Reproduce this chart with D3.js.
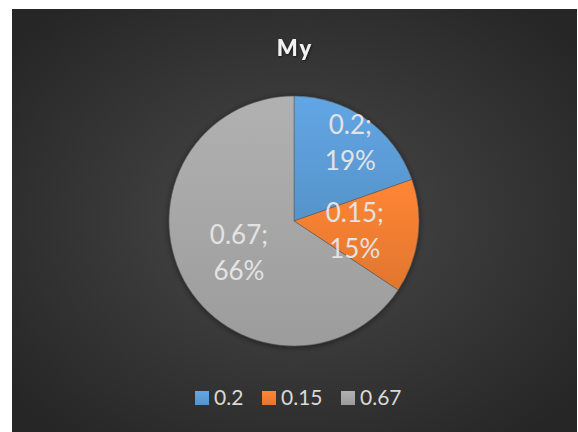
<!DOCTYPE html>
<html>
<head>
<meta charset="utf-8">
<script src="https://cdn.jsdelivr.net/npm/d3@7"></script>
<style>
  html, body { margin: 0; padding: 0; background: #ffffff; }
  svg { display: block; }
</style>
</head>
<body>
<svg id="chart" width="578" height="432"></svg>
<script>
// Chart data
const categories = ["0.2", "0.15", "0.67"];
const values = [0.2, 0.15, 0.67];
const percentLabels = ["19%", "15%", "66%"];
const colors = ["#5B9BD5", "#ED7D31", "#A5A5A5"];
const title = "My";

const svg = d3.select("#chart");
const fontFam = "Lato, 'Open Sans', 'DejaVu Sans', sans-serif";

const defs = svg.append("defs");

// Dark radial background
const bg = defs.append("radialGradient").attr("id", "bg")
  .attr("cx", "50%").attr("cy", "50%").attr("r", "65%");
bg.append("stop").attr("offset", "0%").attr("stop-color", "#4a4a4a");
bg.append("stop").attr("offset", "100%").attr("stop-color", "#262626");

// Vertical gradients per slice
colors.forEach((c, i) => {
  const g = defs.append("linearGradient").attr("id", "sg" + i)
    .attr("x1", 0).attr("y1", 0).attr("x2", 0).attr("y2", 1);
  g.append("stop").attr("offset", "0%").attr("stop-color", d3.color(c).brighter(0.2));
  g.append("stop").attr("offset", "100%").attr("stop-color", d3.color(c).darker(0.15));
});

const shadow = defs.append("filter").attr("id", "shadow")
  .attr("x", "-20%").attr("y", "-20%").attr("width", "140%").attr("height", "140%");
shadow.append("feDropShadow").attr("dx", 0).attr("dy", 1).attr("stdDeviation", 3)
  .attr("flood-color", "#000").attr("flood-opacity", 0.5);

const tshadow = defs.append("filter").attr("id", "tshadow");
tshadow.append("feDropShadow").attr("dx", 1).attr("dy", 1).attr("stdDeviation", 1)
  .attr("flood-color", "#000").attr("flood-opacity", 0.6);

svg.append("rect").attr("x", 12).attr("y", 9).attr("width", 565).attr("height", 423)
  .attr("fill", "url(#bg)");

// Title (letter-spacing adds a trailing gap, so offset the anchor by half of it)
const titleSpacing = 2;
svg.append("text").attr("x", 294 + titleSpacing / 2).attr("y", 56)
  .attr("text-anchor", "middle")
  .attr("font-family", fontFam).attr("font-weight", 900).attr("font-size", 22)
  .attr("letter-spacing", titleSpacing)
  .attr("fill", "#f2f2f2").attr("filter", "url(#tshadow)")
  .text(title);

// Pie
const cx = 294, cy = 221, R = 125;
const pie = d3.pie().sort(null).value(d => d);
const arcs = pie(values);
const arc = d3.arc().innerRadius(0).outerRadius(R);

const g = svg.append("g").attr("transform", `translate(${cx},${cy})`);
g.append("g").attr("filter", "url(#shadow)")
  .selectAll("path").data(arcs).join("path")
  .attr("d", arc)
  .attr("fill", (d, i) => `url(#sg${i})`)
  .attr("stroke", "#555").attr("stroke-width", 0.5);

// Data labels: value on the first line, percent on the second
const labelRadius = [0.78, 0.49, 0.5];
arcs.forEach((d, i) => {
  const a = (d.startAngle + d.endAngle) / 2;
  const r = labelRadius[i] * R;
  const x = Math.sin(a) * r, y = -Math.cos(a) * r;
  const t = g.append("text")
    .attr("text-anchor", "middle")
    .attr("font-family", fontFam).attr("font-size", 26)
    .attr("fill", "#e3e3e3");
  t.append("tspan").attr("x", x).attr("y", y - 7).text(categories[i] + ";");
  t.append("tspan").attr("x", x).attr("y", y + 29).text(percentLabels[i]);
});

// Legend
const legendX = [195, 262, 341];
const leg = svg.append("g");
categories.forEach((c, i) => {
  leg.append("rect").attr("x", legendX[i]).attr("y", 391).attr("width", 14).attr("height", 14)
    .attr("fill", `url(#sg${i})`);
  leg.append("text").attr("x", legendX[i] + 19).attr("y", 405)
    .attr("font-family", fontFam).attr("font-size", 21)
    .attr("fill", "#d9d9d9").text(c);
});
</script>
</body>
</html>
